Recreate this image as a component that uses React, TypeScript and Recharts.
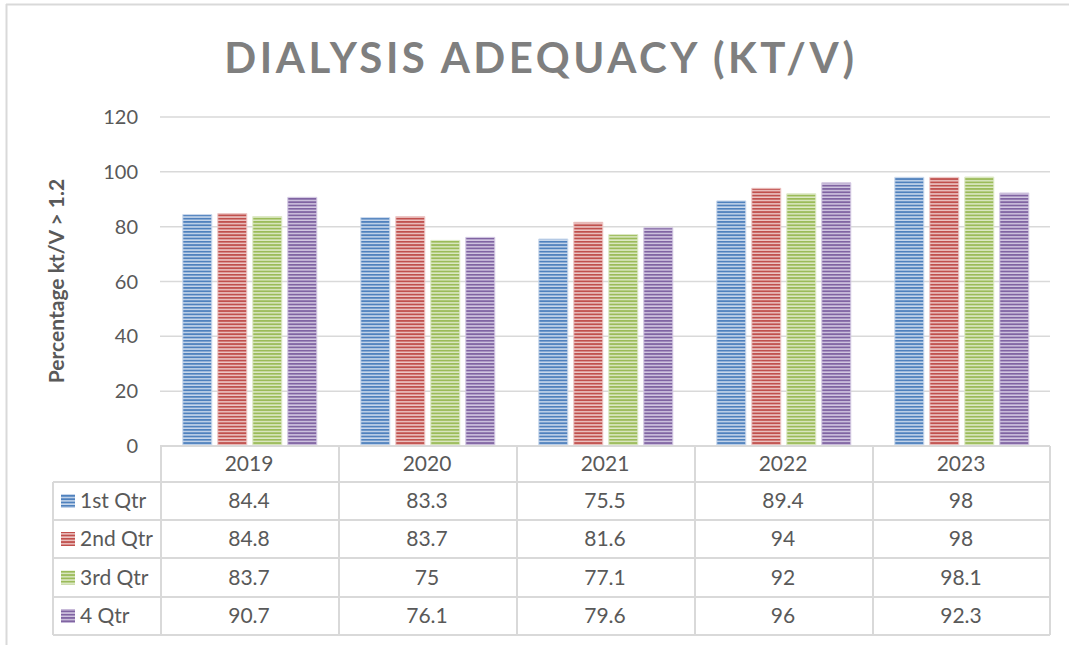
import React from "react";
import { BarChart, Bar, XAxis, YAxis, CartesianGrid } from "recharts";

const years = ["2019", "2020", "2021", "2022", "2023"];
const q1 = [84.4, 83.3, 75.5, 89.4, 98];
const q2 = [84.8, 83.7, 81.6, 94, 98];
const q3 = [83.7, 75, 77.1, 92, 98.1];
const q4 = [90.7, 76.1, 79.6, 96, 92.3];
const seriesNames = ["1st Qtr", "2nd Qtr", "3rd Qtr", "4 Qtr"];
const yTicks = [0, 20, 40, 60, 80, 100, 120];

const seriesValues = [q1, q2, q3, q4];
const keys = ["q1", "q2", "q3", "q4"];
const dark = ["#4F81BD", "#C0504D", "#9BBB59", "#8064A2"];
const light = ["#C9D8EC", "#EDC7C6", "#DDE9C6", "#D3C8E2"];

const data = years.map((y, i) => ({
  year: y,
  q1: q1[i],
  q2: q2[i],
  q3: q3[i],
  q4: q4[i],
}));

const FONT = "Lato, 'Open Sans', sans-serif";
const TXT = "#595959";
const GRID = "#D9D9D9";
const FS = 21;

const PLOT_L = 160;
const PLOT_R = 1050;
const ROW_TOPS = [446, 482, 520, 558, 597, 635];
const LEG_L = 53;

const TableTick = (props: any) => {
  const { x, payload } = props;
  const i = payload.index;
  return (
    <g>
      <text x={x} y={(ROW_TOPS[0] + ROW_TOPS[1]) / 2 + 7} textAnchor="middle" fontSize={FS} fill={TXT} fontFamily={FONT}>
        {payload.value}
      </text>
      {seriesValues.map((s, r) => (
        <text
          key={r}
          x={x}
          y={(ROW_TOPS[r + 1] + ROW_TOPS[r + 2]) / 2 + 7}
          textAnchor="middle"
          fontSize={FS}
          fill={TXT}
          fontFamily={FONT}
        >
          {s[i]}
        </text>
      ))}
    </g>
  );
};

export default function App() {
  const colW = (PLOT_R - PLOT_L) / years.length;
  return (
    <div style={{ position: "absolute", left: 0, top: 0, width: 1069, height: 645, background: "#fff" }}>
      <BarChart
        width={1069}
        height={645}
        data={data}
        margin={{ top: 117, right: 19, left: 0, bottom: 9 }}
        barCategoryGap="12.8%"
        barGap={6}
      >
        <defs>
          {dark.map((c, i) => (
            <pattern key={i} id={`stripe${i}`} width={4} height={3.3} patternUnits="userSpaceOnUse">
              <rect x={0} y={0} width={4} height={3.3} fill={light[i]} />
              <rect x={0} y={0} width={4} height={1.8} fill={c} />
            </pattern>
          ))}
        </defs>
        <CartesianGrid vertical={false} stroke={GRID} strokeWidth={1.5} />
        <XAxis
          dataKey="year"
          height={190}
          axisLine={{ stroke: GRID, strokeWidth: 2 }}
          tickLine={false}
          tick={<TableTick />}
          interval={0}
        />
        <YAxis
          width={160}
          domain={[0, 120]}
          ticks={yTicks}
          axisLine={false}
          tickLine={false}
          tickMargin={16}
          tick={{ fontSize: 20, fill: TXT, fontFamily: FONT }}
        />
        {keys.map((k, i) => (
          <Bar
            key={k}
            dataKey={k}
            name={seriesNames[i]}
            fill={`url(#stripe${i})`}
            stroke={light[i]}
            strokeWidth={1}
            isAnimationActive={false}
          />
        ))}
      </BarChart>
      <svg
        width={1069}
        height={645}
        style={{ position: "absolute", left: 0, top: 0, pointerEvents: "none" }}
      >
        <defs>
          {dark.map((c, i) => (
            <pattern key={i} id={`lstripe${i}`} width={4} height={3.3} patternUnits="userSpaceOnUse">
              <rect x={0} y={0} width={4} height={3.3} fill={light[i]} />
              <rect x={0} y={0} width={4} height={1.8} fill={c} />
            </pattern>
          ))}
        </defs>
        <line x1={6.5} y1={4} x2={6.5} y2={645} stroke={GRID} strokeWidth={2} />
        <line x1={6} y1={4.5} x2={1069} y2={4.5} stroke={GRID} strokeWidth={2} />
        <text
          x={541}
          y={73}
          textAnchor="middle"
          fontSize={42}
          fontWeight={700}
          letterSpacing={3.5}
          fill="#7F7F7F"
          fontFamily={FONT}
        >
          DIALYSIS ADEQUACY (KT/V)
        </text>
        <text
          x={0}
          y={0}
          transform="translate(64,281) rotate(-90)"
          textAnchor="middle"
          fontSize={21}
          fontWeight={700}
          fill={TXT}
          fontFamily={FONT}
        >
          Percentage kt/V &gt; 1.2
        </text>
        {years.map((_, i) => (
          <line key={`v${i}`} x1={PLOT_L + colW * i + 1} y1={ROW_TOPS[0]} x2={PLOT_L + colW * i + 1} y2={ROW_TOPS[5]} stroke={GRID} strokeWidth={2} />
        ))}
        <line x1={PLOT_R} y1={ROW_TOPS[0]} x2={PLOT_R} y2={ROW_TOPS[5]} stroke={GRID} strokeWidth={2} />
        <line x1={LEG_L} y1={ROW_TOPS[1]} x2={LEG_L} y2={ROW_TOPS[5]} stroke={GRID} strokeWidth={2} />
        {ROW_TOPS.slice(1).map((y, i) => (
          <line key={`h${i}`} x1={LEG_L} y1={y} x2={PLOT_R} y2={y} stroke={GRID} strokeWidth={2} />
        ))}
        {seriesNames.map((n, r) => {
          const cy = (ROW_TOPS[r + 1] + ROW_TOPS[r + 2]) / 2;
          return (
            <g key={n}>
              <rect x={61} y={cy - 7} width={14} height={14} fill={`url(#lstripe${r})`} />
              <text x={80} y={cy + 7} fontSize={FS} fill={TXT} fontFamily={FONT}>
                {n}
              </text>
            </g>
          );
        })}
      </svg>
    </div>
  );
}
